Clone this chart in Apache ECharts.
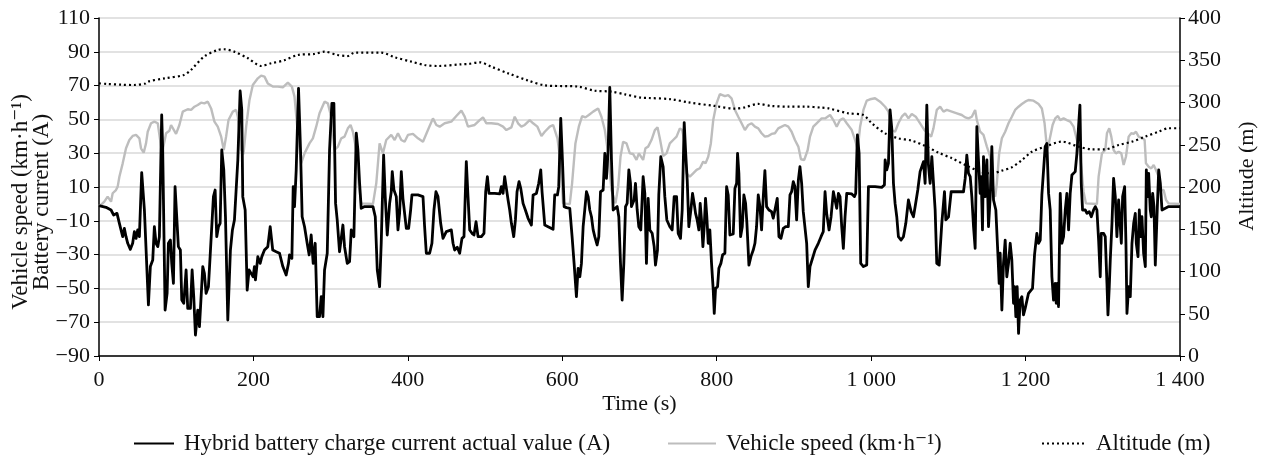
<!DOCTYPE html>
<html>
<head>
<meta charset="utf-8">
<script src="https://cdn.jsdelivr.net/npm/echarts@6/dist/echarts.min.js"></script>
<style>html,body{margin:0;padding:0;background:#fff}#c{width:1263px;height:459px}</style>
</head>
<body>
<div id="c"></div>
<script>
const FONT = "'Liberation Serif','DejaVu Serif',serif";
const xTicks = [0, 200, 400, 600, 800, 1000, 1200, 1400];
const leftTicks = [-90, -70, -50, -30, -10, 10, 30, 50, 70, 90, 110];
const rightTicks = [0, 50, 100, 150, 200, 250, 300, 350, 400];
const seriesNames = ['Hybrid battery charge current actual value (A)', 'Vehicle speed (km·h⁻¹)', 'Altitude (m)'];

// Battery current [time s, A]
const currentData = [[0,-1],[9,-2],[15.6,-3.6],[16.4,-2.6],[19,-6.6],[23.3,-5.6],[26.4,-11.5],[28.5,-15.4],[30.7,-19.4],[32.8,-14.5],[35,-19.4],[37.2,-23.3],[40.6,-26.9],[43.6,-23.3],[45.8,-16.4],[48,-20.4],[50.1,-15.4],[52.3,-19.4],[55.3,18.5],[58.8,-3.6],[64,-59.8],[66.5,-37.1],[69.6,-33.2],[71.7,-13.5],[73.9,-23.3],[76.1,-25.3],[78.2,-19.4],[81.2,52.6],[82.5,31.9],[85.6,-62.8],[88.2,-52.9],[89.9,-23.3],[92.5,-21.4],[94.2,-35.2],[96.4,-47],[98.5,10.2],[100.7,11.2],[102.8,-25.3],[105.4,-27.3],[107.2,-56.9],[109.8,-58.8],[112.8,-39.1],[114.9,-61.8],[118.4,-61.8],[120.6,-39.1],[122.7,-54.9],[124.9,-77.6],[127.9,-62.8],[130.1,-72.6],[132.2,-71.7],[134.4,-37.1],[136.5,-41.1],[138.7,-52.9],[141.7,-49],[143.9,-31.2],[146.1,-30.2],[148.2,4.3],[150.4,8.2],[152.5,-19.4],[154.7,-13.5],[156.9,-11.5],[159,31.9],[161.6,20.1],[163.8,-7.6],[166.8,-68.7],[170.2,-27.3],[172.8,-15.4],[175.4,-9.5],[177.6,8.2],[179.8,26],[182.8,66.8],[184.9,55.6],[186.2,4.3],[189.3,-3.6],[191.9,-51],[194.4,-39.1],[197,-41.1],[199.6,-43.1],[201.3,-37.1],[202.6,-45],[205.7,-31.2],[208.7,-35.2],[210.9,-31.2],[214.3,-27.3],[218.6,-25.3],[221.7,-13.5],[225,-27.3],[229.5,-28.3],[233.8,-29.2],[238.1,-37.1],[242.4,-42.1],[245.4,-35.2],[246.7,-30.2],[249.8,-32.2],[251.5,10.2],[253.2,-1.6],[255.4,20],[258.4,68.4],[261,31.9],[263.1,-7.6],[266.2,-13.5],[269.6,-23.3],[272.2,-30.2],[274.8,-18.4],[277.4,-35.2],[280,-23.3],[282.6,-66.7],[285.6,-66.7],[287.8,-54.9],[290,-66.7],[292.1,-39.1],[295.6,-29.2],[298.6,31.9],[301.6,59.5],[304.2,59.5],[306.4,0.3],[308.5,-9.5],[311.5,-28.3],[313.7,-28.3],[315.9,-12.5],[318,-25.3],[321.5,-35.2],[324.5,-34.2],[326.7,-15.4],[330.1,-19.4],[333.2,41.8],[335.3,31.9],[337.5,12.2],[339.6,-2.6],[344,-1.6],[354.8,-1.6],[357.8,-7.6],[360.4,-39.1],[363.4,-49],[365.5,-23.3],[368.6,28.9],[370.7,4.3],[373.3,-18.4],[376.4,0.3],[378.5,7.2],[379.8,19.1],[382,8.2],[385,4.3],[387.2,-15.4],[389.3,-5.6],[391.5,19.1],[393.6,3.3],[395.8,4.3],[398,-14.5],[401,-14.5],[403.6,-3.6],[405.3,5.3],[413,5.3],[419.6,4.3],[421.7,-13.5],[423.9,-29.2],[428.2,-29.2],[431.2,-23.3],[433.8,-3.6],[436.4,7.2],[439,4.3],[442.5,-11.5],[445.5,-20.4],[449.8,-16.4],[456.3,-15.4],[458.5,-23.3],[460.6,-27.3],[464,-25.7],[467.1,-29.2],[470.1,-20.4],[472.7,-19.4],[475.7,25],[477.9,4.3],[480.1,-15.4],[483.1,-17.4],[485.7,-18.4],[488.3,-10.5],[490.9,-19.4],[495.2,-19.4],[498.6,-17.4],[500.8,7.2],[503,16.1],[505.1,6.2],[512.5,6.2],[519,5.9],[521.1,10.2],[523.3,6.2],[525.4,16.1],[527.6,9.2],[529.8,2.3],[531.9,-3.6],[534.1,-11.5],[537.1,-19.4],[539.3,-9.5],[541.4,7.2],[544,13.2],[546.2,9.2],[549.2,0.3],[552.2,-3.6],[555.7,-8.5],[560,-12.5],[562.2,5.3],[566.5,6.2],[569.5,12.2],[572.1,20.1],[573.8,7.2],[577.3,-12.5],[581.6,-13.5],[588.1,-15],[590.2,5.3],[593.7,5.3],[595.4,10.2],[598,50.6],[600.2,26],[602.4,-1.6],[605.4,-2.2],[609.7,-2.6],[612.7,-19.4],[615.3,-35.2],[618.3,-54.9],[620.5,-38.1],[622.7,-43.1],[624.8,-35.2],[627,-13.5],[629.1,-3.6],[631.3,7.2],[633.5,4.3],[635.6,-3.6],[637.8,-7.6],[640,-15.4],[642.1,-19.4],[645.1,-24.3],[647.3,-19.4],[649.5,7.2],[652.9,8.2],[655.1,29.9],[657.2,15.1],[659.4,31.9],[661.5,68.9],[663.7,26],[665.9,-3.6],[668,-2.6],[671.1,-1.6],[673.2,-7.6],[675.4,-35.2],[677.5,-56.9],[679.7,-35.2],[681.9,-1.6],[684,0.3],[686.2,20.1],[688.3,12.2],[689.6,-1.6],[693,2.3],[694.8,12.2],[697,-3.6],[699.1,-13.5],[701.7,-15.4],[704.7,16.1],[706.9,6.2],[709,-35.2],[711.2,3.3],[713.4,-15.4],[716.4,-17.4],[719,-25.3],[720.7,-36.2],[723.3,-27.3],[725,5.3],[727.6,27.9],[730.6,22],[732.8,4.3],[735.4,-9.5],[739.3,-13.5],[742.3,-15.4],[744.9,4.3],[748,4.3],[750.1,-17.4],[753.1,-20.4],[755.3,-3.6],[757.9,48.1],[759.6,31.9],[761.8,14.1],[763.9,-13.5],[766.5,-3.6],[768.7,6.2],[770.8,0.3],[772.6,-5.6],[774.7,-9.5],[776.9,-15.4],[778.6,0.3],[780.3,-9.5],[782.1,-25.3],[783.8,-13.5],[785.5,3.3],[787.2,-7.6],[789,-23.3],[791.1,-15.4],[793.3,-35.2],[795.5,-51],[796.8,-64.8],[798.5,-50],[801.1,-49],[802.8,-38.1],[805.4,-35.2],[807.6,-30.2],[810.6,-29.2],[812.8,10.2],[814.9,5.3],[817.1,-18.4],[821.4,-17.8],[823.6,9.2],[825.8,12.2],[827,29.9],[828.7,18.1],[830.9,-19.4],[833.1,-13.5],[835.2,5.3],[837.4,0.3],[839.1,-11.5],[841.7,-36.2],[844.3,-31.2],[847.3,-27.3],[849.5,-23.3],[851.6,-13.5],[853.8,5.3],[856,-1.6],[858.1,-15.4],[860.3,4.3],[862.4,19.7],[864.6,-1.6],[867.6,-3.6],[871,-4.6],[873.2,-8.5],[876.3,-1.6],[878.4,3.3],[880.6,-19.4],[883.2,-20.4],[886.2,-14.5],[889.3,-13.5],[892.7,-13.5],[894.9,5.3],[897,7.2],[899.2,13.2],[901.3,10.2],[903.5,-9.5],[905.7,14.1],[907.8,22],[910,12.2],[912.1,-4.6],[914.3,-5.6],[916.5,-23.3],[918.6,-49],[920.8,-37.1],[923,-37.1],[927.3,-27.3],[931.6,-23.3],[935.1,-19.4],[938,-16.4],[940.3,7.2],[942.4,-5.6],[945.5,-15.4],[948.1,-7.6],[951.1,7.2],[953.2,7.2],[955.4,-2.6],[957.6,6.2],[959.7,4.3],[961.9,-13.5],[964,-26.3],[966.2,-7.6],[968.4,6.2],[974.9,5.9],[978.3,4.3],[980,6.2],[982.2,40.8],[984.4,29.9],[986.5,-35.2],[990,-37.1],[994.3,-36.2],[996.5,10.2],[1005.1,10.2],[1013.7,9.8],[1017.2,11.2],[1018.1,26],[1020.2,20.1],[1022.4,24],[1024.5,55.6],[1026.7,44.7],[1028.9,12.2],[1031,0.3],[1033.2,-7.6],[1035.3,-19.4],[1038.8,-21.4],[1041.8,-19.4],[1044.9,-11.5],[1048.3,2.3],[1051.8,-4.6],[1054.8,-7.6],[1057,-1.6],[1060.4,8.2],[1063.4,19.1],[1065.6,20.1],[1067.8,25],[1069.9,12.2],[1072.1,58.5],[1074.2,23],[1076.4,12.2],[1078.6,28],[1080.7,27],[1082.9,-3.6],[1085,-35.2],[1088.1,-36.2],[1091.5,-11.5],[1095,7.2],[1096.7,-9.5],[1100.2,-7.6],[1103.6,7.2],[1113.1,7.2],[1119.6,7.2],[1121.8,15.1],[1123.9,28.9],[1126.1,18.1],[1128.3,16.1],[1130.4,4.3],[1132.6,-13.5],[1134.7,-26.3],[1136.9,45.7],[1139,26],[1141.2,6.2],[1142.5,16.1],[1144.2,-15.4],[1145.5,28],[1147.7,4.3],[1149.9,26],[1152,-13.5],[1154.2,4.3],[1156.3,33.9],[1158.5,2.3],[1161.5,-3.6],[1164.1,-29.2],[1165.8,-47],[1167.1,-29.2],[1169.3,-62.8],[1171.4,-35.2],[1173.6,-21.4],[1175.7,-43.1],[1177.9,-35.2],[1180.1,-23.3],[1182.2,-33.2],[1184.4,-58.8],[1185.7,-49],[1187.4,-66.7],[1189.1,-49],[1190.9,-76.6],[1193,-56.9],[1195.2,-54.9],[1197.3,-65.7],[1199.5,-61.8],[1201.7,-60.8],[1203.8,-52.9],[1206,-51.9],[1209,-50],[1211.6,-30.2],[1214.6,-17.4],[1216.8,-23.3],[1219,-21.4],[1221.1,5.3],[1223.3,4.3],[1225.4,33.9],[1227.6,35.8],[1229.8,6.2],[1231.9,-3.6],[1234.1,-43.1],[1236.2,-56.9],[1238.4,-47],[1239.7,-58.8],[1241,-47],[1242.7,-60.8],[1244.9,6.2],[1247.1,-23.3],[1249.2,-19.4],[1251.4,-3.6],[1253.5,6.2],[1255.7,-15.4],[1257.8,6.2],[1260,17.1],[1262.2,18.1],[1264.3,19.1],[1266.5,29.9],[1268.6,45.7],[1270.4,58.5],[1272.1,12.2],[1273.8,-3.6],[1277.3,-3.6],[1279.5,-5.6],[1282.5,-4.6],[1285.1,-7.6],[1288.1,-3.6],[1290.3,-1.6],[1292.4,-3.6],[1294.6,-21.4],[1296.7,-43.1],[1298,-17.4],[1301.1,-17.4],[1303.2,-19.4],[1305.4,-47],[1306.7,-65.7],[1308.4,-49],[1309.7,-33.2],[1311.9,-11.5],[1314,15.1],[1316.2,4.3],[1318.3,-19.4],[1320.5,2.3],[1322.7,2.3],[1324,-23.3],[1325.7,4.3],[1328.3,10.2],[1330,-23.3],[1331.3,-64.8],[1333.5,-49],[1335.6,-54.9],[1337.8,-23.3],[1340,-11.5],[1342.1,-5.6],[1343.4,-23.3],[1345.6,-31.2],[1347.3,-3.6],[1349,-19.4],[1350.7,-7.6],[1352.9,-29.2],[1355.1,-37.1],[1356.4,20.1],[1358.1,4.3],[1359.4,18.1],[1361.5,-3.6],[1362.8,-7.6],[1364.6,6.2],[1366.3,-1.6],[1368,-36.2],[1370.2,-7.6],[1372.4,20.1],[1374.5,12.2],[1376.7,-3.6],[1378.8,-4.6],[1381,-2.6],[1385.3,-1.6],[1400,-1.6]];

// Vehicle speed [time s, km/h]
const speedData = [[0,-1],[2.6,-0.6],[6.9,1.3],[11.2,4.3],[13.4,3.3],[15.6,1.3],[17.7,6.3],[22,8.2],[24.2,10.2],[26.4,16.1],[30.7,24],[35,32.9],[39.3,37.8],[43.6,40.2],[48,40.8],[52.3,38.8],[54.4,32.9],[57.9,30.3],[60.9,35.8],[63.1,42.7],[67.4,47.7],[71.7,48.7],[76.1,47.7],[78.2,48.1],[80.4,33.9],[82.5,31.9],[86.9,41.8],[91.2,43.3],[93.3,46.7],[95.5,46.7],[99.8,41.4],[104.1,46.7],[108.5,54.6],[114.9,56],[119.3,55.6],[123.6,57.5],[127.9,58.5],[132.2,59.9],[136.5,59.5],[140.9,60.5],[145.2,56.5],[149.5,48.7],[153.8,45.7],[158.2,39.8],[161.6,31.9],[164.6,39.8],[167.7,49.6],[173.3,54.6],[177.6,55.6],[179.8,51.6],[184.1,31.9],[187.1,29.5],[190.6,45.7],[194.9,61.5],[199.2,70.4],[205.7,74.3],[210,75.9],[214.3,75.3],[218.6,71.3],[225.1,69.4],[231.6,69.4],[238.1,69],[244.6,71.7],[249.8,69.4],[253.2,63.5],[257.5,41.8],[261.8,24],[266.2,29.9],[272.6,35.8],[277,38.8],[281.3,45.7],[285.6,53.6],[292.1,60.5],[296.4,59.5],[300.7,51.6],[305,31.9],[309.4,33.9],[313.7,38.8],[318,39.8],[322.3,44.7],[325.8,46.7],[328.8,42.7],[333.2,31.9],[336.2,12.2],[339.6,0.3],[354.8,-0.1],[359.1,12.2],[363.4,35.8],[367.7,29.9],[372,37.8],[378.5,40.8],[382.9,37.8],[387.2,41.8],[391.5,37.8],[395.8,36.8],[400.1,40.8],[406.6,41.4],[413.1,38.8],[419.6,36.8],[426,43.7],[432.5,50.6],[436.9,46.7],[441.2,45.7],[447.7,47.7],[456.3,48.7],[462.8,52],[469.3,55.2],[473.6,51.6],[477.9,45.7],[486.5,46.7],[493,49.6],[497.3,51.2],[501.7,47.7],[508.2,47.7],[516.8,47.3],[523.3,45.7],[527.6,43.7],[534.1,45.3],[538.4,51.6],[542.7,47.7],[547,45.7],[551.4,46.7],[557.8,49.6],[562.2,47.7],[567.8,45.7],[573,40.2],[577.3,42.7],[583.8,45.7],[588.1,46.7],[593.7,38.8],[598,24],[601,0.3],[609.7,-0.1],[612.7,12.2],[617,35.8],[621.4,45.7],[625.7,52],[630,51.2],[634.3,52.6],[640,54.6],[646.4,56.5],[650.7,51.6],[655.1,43.7],[659.4,29.9],[663.7,8.2],[668.9,0.3],[672.4,10.2],[675.4,27.9],[678.8,36.8],[683.2,35.8],[687.5,29.9],[691.8,29.5],[696.1,26],[699.2,29.9],[702.6,27.5],[704.7,26],[707.7,32.9],[711.2,33.9],[715.5,37.8],[719.9,43.7],[723.3,45.3],[726.3,38.8],[730.6,28.3],[735,29.9],[739.3,35.8],[743.6,37.8],[748,39.8],[752.3,44.7],[755.3,43.7],[757.9,37.8],[760.9,18.1],[765.2,16.1],[769.5,18.1],[773.9,20.1],[778.2,21.1],[782.5,25],[785.5,24],[789,27.9],[792.4,35.8],[795.5,49.6],[799.8,59.5],[804.1,65],[810.6,63.8],[814.9,64.4],[819.2,62.5],[823.6,55.6],[827.9,51.6],[832.2,47.7],[836.5,43.7],[840.8,46.7],[845.2,47.7],[849.5,45.7],[853.8,44.7],[858.1,41.8],[862.4,39.8],[866.8,40.2],[871,41.4],[875.4,41.8],[879.7,44.7],[884.1,45.7],[888.4,46.7],[892.7,45.7],[897,42.7],[901.3,37.8],[905.7,33.9],[909.1,26.4],[913.4,26],[917.8,31.9],[920.8,39.8],[925.1,45.7],[929.4,47.7],[935.9,50.6],[940.3,50.6],[946.8,52.6],[951.1,49.6],[955.4,45.7],[959.7,49.6],[964,50.6],[968.4,47.7],[974.9,43.7],[979.2,37.8],[982.6,31.9],[985.7,45.7],[990,55.6],[994.3,61.1],[998.6,61.9],[1005.1,62.5],[1011.6,60.5],[1018.1,57.5],[1022.4,54.6],[1026.7,43.7],[1031,42.7],[1035.3,47.7],[1039.7,51.6],[1044,53.6],[1048.3,50.6],[1052.6,53.2],[1057.8,51.6],[1063.4,47.7],[1069,43.7],[1073.4,41.8],[1077.7,39.8],[1080.7,44.7],[1085,55.6],[1089.4,57.5],[1093.7,54.6],[1098,55.6],[1104.5,54.6],[1111,53.6],[1117.4,52.6],[1121.8,51.2],[1126.1,50.6],[1130.4,51.6],[1134.7,55.6],[1136.9,49.6],[1141.2,42.7],[1145.5,40.8],[1149.9,33.9],[1154.2,27.9],[1158.5,6.2],[1160.7,4.3],[1162.8,12.2],[1165.8,29.9],[1169.3,38.8],[1173.6,42.7],[1177.9,47.7],[1182.2,51.6],[1186.5,55.6],[1190.9,57.5],[1195.2,59.1],[1199.5,60.5],[1203.8,61.5],[1210.3,61.1],[1216.8,59.1],[1221.1,56.5],[1224.6,47.7],[1226.7,37.8],[1228.9,32.9],[1231.9,39.8],[1235,46.7],[1238.4,50.6],[1241.9,52],[1244.9,49.6],[1249.2,50.6],[1253.5,49.6],[1257.8,48.7],[1262.2,45.7],[1266.5,37.8],[1269.5,33.9],[1272.1,22],[1275.1,7.2],[1278.2,0.3],[1292.4,-0.1],[1294.6,16.1],[1298.9,29.9],[1303.2,31.9],[1305.4,41.8],[1308.4,44.7],[1311,39.8],[1314,31.9],[1317,29.9],[1320.5,30.9],[1324,29.9],[1327,23],[1330,27.9],[1333.5,39.8],[1336.9,41.8],[1340,41.4],[1343,42.7],[1346.4,39.8],[1348.6,40.8],[1351.6,38.8],[1354.2,37.8],[1355.9,24],[1359.4,22],[1362.8,21],[1365.9,23],[1368.9,20.1],[1372.4,16.1],[1375.8,8.2],[1378.8,8.2],[1381.9,2.3],[1385.3,0.3],[1400,-0.1]];

// Altitude [time s, m]
const altitudeData = [[0,322.7],[10,322],[30,321],[45,320.7],[60,322.5],[63,324.7],[85,328.6],[110,332.6],[119,338.5],[136,354.3],[154,362.2],[162,363],[175,360.2],[193,352.3],[210,343.2],[223,346.4],[240,350],[257.5,356.2],[279,357.4],[292,360.2],[309,356.2],[322,355],[331,359],[365.5,359],[383,353.5],[404.5,348.4],[421.7,344.4],[439,343.2],[469.3,345.2],[478,345.6],[493,347.6],[508,342.4],[530,334.5],[556,325.9],[577.3,320.3],[620.5,318.8],[642,314],[663.7,312.9],[681,309.7],[702.6,305.7],[711,305.4],[741.5,303.8],[763,300.2],[797.6,295.9],[823.6,292.7],[836.5,294.3],[853.8,298.3],[871,295.9],[892.7,295.1],[914.3,295.1],[935.9,293.9],[944.6,293.1],[970.5,287.2],[990,285.2],[1000.8,275.4],[1018.1,263.5],[1035.3,257.6],[1052.6,254.9],[1069.9,248.5],[1087.2,240.7],[1104.5,234],[1121.8,226.1],[1143.4,217.4],[1156.3,216.2],[1169.3,219.4],[1182.2,223.3],[1195.2,231.9],[1208.2,241.8],[1225.4,247.8],[1247.1,253.7],[1268.6,247.8],[1285.9,244.6],[1303.2,244.6],[1320.5,249.7],[1337.8,253.7],[1355.1,259.6],[1372.4,265.5],[1385.3,269.5],[1400,269.5]];

const chart = echarts.init(document.getElementById('c'), null, {renderer: 'canvas'});
const txt = {fontFamily: FONT, color: '#111', fontSize: 22};
const legendBase = {
  top: 427, itemHeight: 14,
  itemStyle: {opacity: 0},
  textStyle: {fontFamily: FONT, color: '#111', fontSize: 23, padding: [0, 0, 0, 5]},
  selectedMode: false
};
chart.setOption({
  animation: false,
  backgroundColor: '#fff',
  grid: {left: 99, right: 83, top: 18, bottom: 103, containLabel: false, outerBoundsMode: 'none'},
  legend: [
    Object.assign({}, legendBase, {left: 128, itemWidth: 40, data: [seriesNames[0]]}),
    Object.assign({}, legendBase, {left: 662, itemWidth: 48, data: [seriesNames[1]]}),
    Object.assign({}, legendBase, {left: 1036, itemWidth: 44, data: [seriesNames[2]]})
  ],
  xAxis: {
    type: 'value', min: xTicks[0], max: xTicks[xTicks.length - 1], interval: xTicks[1] - xTicks[0],
    name: 'Time (s)', nameLocation: 'middle', nameGap: 37, nameMoveOverlap: false,
    nameTextStyle: Object.assign({}, txt, {fontSize: 22}),
    axisLine: {show: true, onZero: false, lineStyle: {color: '#000', width: 1.5}},
    axisTick: {show: true, inside: false, length: 5, lineStyle: {color: '#000', width: 1}},
    axisLabel: Object.assign({}, txt, {margin: 13, formatter: v => v >= 1000 ? String(v).replace(/(\d)(\d{3})$/, '$1 $2') : String(v)}),
    splitLine: {show: false}
  },
  yAxis: [
    {
      type: 'value', min: leftTicks[0], max: leftTicks[leftTicks.length - 1], interval: leftTicks[1] - leftTicks[0],
      name: 'Vehicle speed (km·h⁻¹)\nBattery current (A)', nameLocation: 'middle', nameGap: 47, nameRotate: 90, nameMoveOverlap: false,
      nameTextStyle: Object.assign({}, txt, {fontSize: 23, lineHeight: 21, align: 'center', padding: [0, 30, 0, 0]}),
      axisLine: {show: true, onZero: false, lineStyle: {color: '#000', width: 1.5}},
      axisTick: {show: true, inside: false, length: 5, lineStyle: {color: '#000', width: 1}},
      axisLabel: Object.assign({}, txt, {margin: 9, formatter: v => String(v).replace('-', '−')}),
      splitLine: {show: true, lineStyle: {color: '#d9d9d9', width: 1.5}}
    },
    {
      type: 'value', min: rightTicks[0], max: rightTicks[rightTicks.length - 1], interval: rightTicks[1] - rightTicks[0],
      name: 'Altitude (m)', nameLocation: 'middle', nameGap: 56, nameRotate: 90, nameMoveOverlap: false,
      nameTextStyle: Object.assign({}, txt, {fontSize: 22, padding: [0, 0, 0, 22]}),
      position: 'right',
      axisLine: {show: true, onZero: false, lineStyle: {color: '#000', width: 1.5}},
      axisTick: {show: true, inside: false, length: 5, lineStyle: {color: '#000', width: 1}},
      axisLabel: Object.assign({}, txt, {margin: 8}),
      splitLine: {show: false}
    }
  ],
  series: [
    {
      name: seriesNames[1], type: 'line', yAxisIndex: 0, data: speedData, symbol: 'none', z: 2,
      lineStyle: {color: '#bdbdbd', width: 2.4}, itemStyle: {color: '#bdbdbd'}
    },
    {
      name: seriesNames[0], type: 'line', yAxisIndex: 0, data: currentData, symbol: 'none', z: 3,
      lineStyle: {color: '#000', width: 2.8, join: 'round'}, itemStyle: {color: '#000'}
    },
    {
      name: seriesNames[2], type: 'line', yAxisIndex: 1, data: altitudeData, symbol: 'none', z: 4, smooth: 0.3,
      lineStyle: {color: '#000', width: 2.2, type: [2, 3]}, itemStyle: {color: '#000'}
    }
  ]
});
</script>
</body>
</html>
